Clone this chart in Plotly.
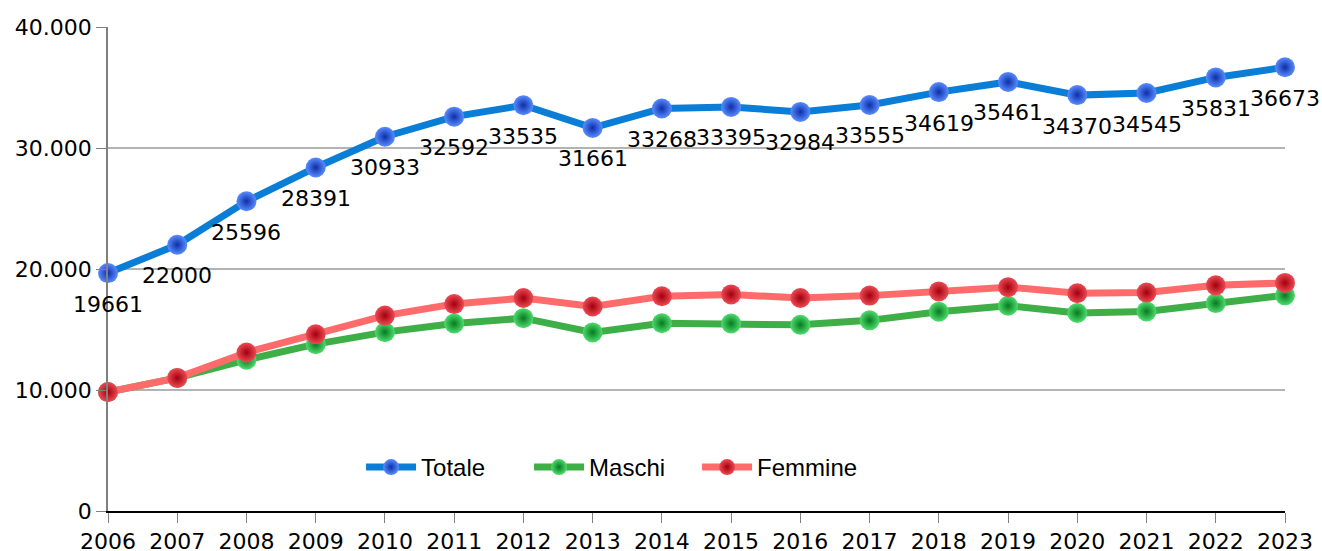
import plotly.graph_objects as go

years = list(range(2006, 2024))
totale = [19661, 22000, 25596, 28391, 30933, 32592, 33535, 31661, 33268, 33395,
          32984, 33555, 34619, 35461, 34370, 34545, 35831, 36673]
femmine = [9830, 11000, 13100, 14600, 16150, 17100, 17600, 16900, 17750, 17900,
           17600, 17800, 18150, 18500, 18000, 18050, 18650, 18850]
maschi = [9831, 11000, 12496, 13791, 14783, 15492, 15935, 14761, 15518, 15495,
          15384, 15755, 16469, 16961, 16370, 16495, 17181, 17823]
y_ticks = [0, 10000, 20000, 30000, 40000]
y_ticktext = ["0", "10.000", "20.000", "30.000", "40.000"]

FONT = "DejaVu Sans"

fig = go.Figure()

def add(name, y, line_color, center_color, edge_color):
    fig.add_trace(go.Scatter(
        x=years, y=y, name=name, mode="lines+markers",
        line=dict(color=line_color, width=7),
        marker=dict(size=20, color=center_color, symbol="circle",
                    gradient=dict(type="radial", color=edge_color),
                    line=dict(width=0)),
        cliponaxis=False,
    ))

add("Totale", totale, "#0a7ed6", "#5a8cff", "#0c2fa8")
add("Maschi", maschi, "#3daf46", "#4fdc6e", "#067a20")
add("Femmine", femmine, "#ff6b6b", "#ee4a55", "#a0000c")

for x, v in zip(years, totale):
    fig.add_annotation(x=x, y=v, text=str(v), showarrow=False, yshift=-31,
                       font=dict(family=FONT, size=22, color="#000000"))

fig.update_layout(
    width=1322, height=551,
    margin=dict(l=108, r=37, t=27, b=40),
    plot_bgcolor="#ffffff", paper_bgcolor="#ffffff",
    font=dict(family=FONT, size=22, color="#000000"),
    showlegend=True,
    legend=dict(orientation="h", x=0.215, y=0.09, xanchor="left", yanchor="middle",
                font=dict(family="Liberation Sans Narrow, Liberation Sans", size=24,
                          color="#000000"),
                bgcolor="rgba(0,0,0,0)", entrywidth=103, itemwidth=50),
    xaxis=dict(range=[2006, 2023], tickvals=years, ticktext=[str(y) for y in years],
               showgrid=False, zeroline=False, showline=True, linecolor="#000000",
               linewidth=1.5, ticks="outside", ticklen=10, tickcolor="#808080",
               tickfont=dict(family=FONT, size=22), automargin=False),
    yaxis=dict(range=[0, 40000], tickvals=y_ticks, ticktext=y_ticktext,
               showgrid=True, gridcolor="#b3b3b3", gridwidth=1.5, zeroline=False,
               showline=True, linecolor="#808080", linewidth=1.5,
               ticks="outside", ticklen=10, tickcolor="#808080",
               tickfont=dict(family=FONT, size=22), automargin=False),
)

fig.write_html(
    "out.html",
    config={"displayModeBar": False},
    post_script="document.body.style.margin='0';document.body.style.overflow='hidden';",
)
